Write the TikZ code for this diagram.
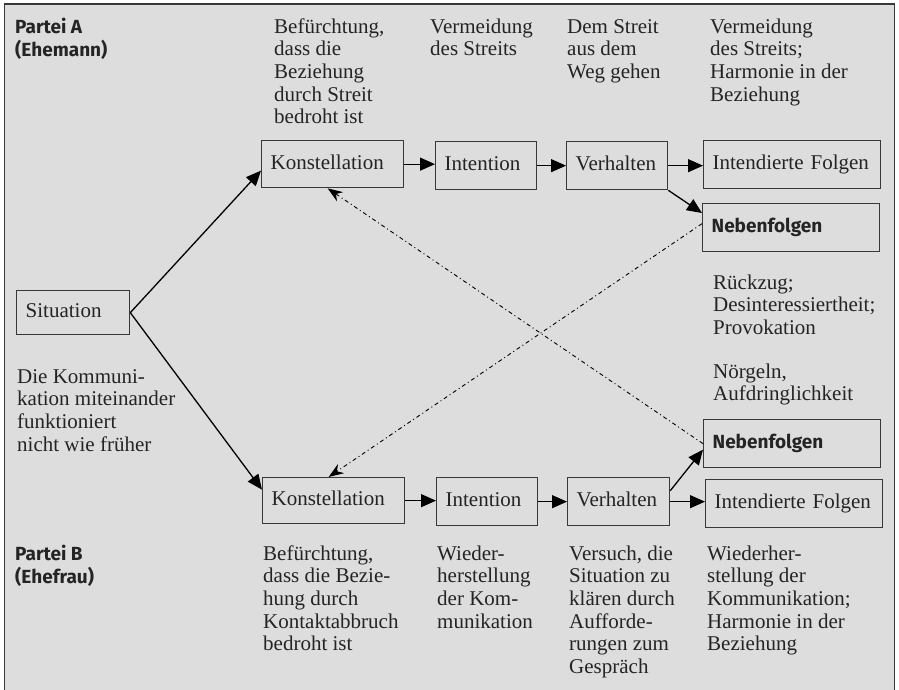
\documentclass[tikz,border=0pt]{standalone}
\usepackage{fontspec}
\setmainfont{Liberation Serif}
\setsansfont{Fira Sans}
\usetikzlibrary{arrows.meta}

\definecolor{panel}{HTML}{DDDDDD}
\definecolor{ink}{HTML}{242424}
\definecolor{edge}{HTML}{383838}

% left-aligned block of lines whose baseline is the first line
\newcommand{\txtlines}[1]{\begin{tabular}[t]{@{}l@{}}#1\end{tabular}}

\begin{document}
\begin{tikzpicture}[x=1pt,y=-1pt,
  serif/.style={font=\fontsize{21}{22.7}\selectfont},
  sansb/.style={font=\sffamily\bfseries\fontsize{19}{23.5}\selectfont},
  box/.style 2 args={draw=edge, line width=1.3pt, anchor=north west,
    inner xsep=9pt, inner ysep=0pt, align=left, text=ink,
    text width=#1, minimum height=#2, text height=14pt, text depth=4pt},
  lbl/.style={anchor=base west, inner sep=0pt, text=ink},
  flow/.style={line width=1.3pt, -{Triangle[length=15pt,width=13pt]}},
  back/.style={line width=0.9pt, dash pattern=on 4pt off 3pt on 1pt off 3pt,
    -{Stealth[length=15pt,width=11pt,inset=5pt]}}
]
\useasboundingbox (0,0) rectangle (899,689);
\clip (0,0) rectangle (899,689);
\fill[white] (0,0) rectangle (899,689);
\filldraw[fill=panel, draw=edge, line width=1.5pt] (4.5,4) rectangle (894.5,720);

% ---- boxes
\node[box={95pt}{44pt}, serif] (sit) at (16,290) {Situation};

\node[box={124pt}{47pt}, serif] (kA) at (261,140) {Konstellation};
\node[box={83pt}{48pt}, serif] (iA) at (435,141) {Intention};
\node[box={83pt}{48pt}, serif] (vA) at (566,141) {Verhalten};
\node[box={159pt}{48pt}, serif] (ifA) at (703,140) {Intendierte Folgen};
\node[box={159pt}{48pt}, sansb] (nA) at (702,203) {Nebenfolgen};

\node[box={159pt}{48pt}, sansb] (nB) at (703,419) {Nebenfolgen};
\node[box={124pt}{46pt}, serif] (kB) at (262,477) {Konstellation};
\node[box={83pt}{48pt}, serif] (iB) at (436,477) {Intention};
\node[box={84pt}{48pt}, serif] (vB) at (567,477) {Verhalten};
\node[box={159pt}{48pt}, serif] (ifB) at (705,479) {Intendierte Folgen};

% ---- labels, party A
\node[lbl, sansb] (pA) at (15,33) {\txtlines{Partei A\\(Ehemann)}};
\node[lbl, serif] (tA1) at (274,33) {\txtlines{Befürchtung,\\dass die\\Beziehung\\durch Streit\\bedroht ist}};
\node[lbl, serif] (tA2) at (430,33) {\txtlines{Vermeidung\\des Streits}};
\node[lbl, serif] (tA3) at (567,33) {\txtlines{Dem Streit\\aus dem\\Weg gehen}};
\node[lbl, serif] (tA4) at (710,33) {\txtlines{Vermeidung\\des Streits;\\Harmonie in der\\Beziehung}};

% ---- labels, middle
\node[lbl, serif] (tS) at (17,383) {\txtlines{Die Kommuni-\\kation miteinander\\funktioniert\\nicht wie früher}};
\node[lbl, serif] (tNA) at (713,289) {\txtlines{Rückzug;\\Desinteressiertheit;\\Provokation}};
\node[lbl, serif] (tNB) at (713,378) {\txtlines{Nörgeln,\\Aufdringlichkeit}};

% ---- labels, party B
\node[lbl, sansb] (pB) at (15,560) {\txtlines{Partei B\\(Ehefrau)}};
\node[lbl, serif] (tB1) at (263,560) {\txtlines{Befürchtung,\\dass die Bezie-\\hung durch\\Kontaktabbruch\\bedroht ist}};
\node[lbl, serif] (tB2) at (437,560) {\txtlines{Wieder-\\herstellung\\der Kom-\\munikation}};
\node[lbl, serif] (tB3) at (569,560) {\txtlines{Versuch, die\\Situation zu\\klären durch\\Aufforde-\\rungen zum\\Gespräch}};
\node[lbl, serif] (tB4) at (707,560) {\txtlines{Wiederher-\\stellung der\\Kommunikation;\\Harmonie in der\\Beziehung}};

% ---- connectors
\draw[flow] (sit.east) -- ([yshift=-6.5pt]kA.west);
\draw[flow] (sit.east) -- ([yshift=11pt]kB.west);

\draw[flow] (kA.east) -- (kA.east -| iA.west);
\draw[flow] (iA.east) -- (iA.east -| vA.west);
\draw[flow] (vA.east) -- (vA.east -| ifA.west);
\draw[flow] (vA.south east) -- ([yshift=-10pt]nA.north west);

\draw[flow] (kB.east) -- (kB.east -| iB.west);
\draw[flow] (iB.east) -- (iB.east -| vB.west);
\draw[flow] (vB.east) -- (vB.east -| ifB.west);
\draw[flow] ([yshift=11pt]vB.east) -- ([yshift=-6pt]nB.west);

\draw[back] ([yshift=4pt]nA.west) -- ([xshift=-5pt]kB.north);
\draw[back] (nB.west) -- ([xshift=-5pt]kA.south);
\end{tikzpicture}
\end{document}
